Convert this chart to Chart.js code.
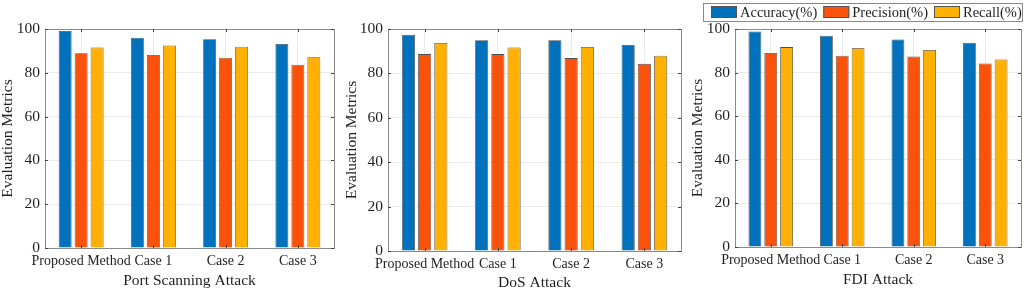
<!DOCTYPE html>
<html>
<head>
<meta charset="utf-8">
<script src="https://cdn.jsdelivr.net/npm/chart.js@4"></script>
<style>
  html, body { margin: 0; padding: 0; background: #fff; }
  #wrap { position: relative; width: 1024px; height: 291px; overflow: hidden; }
  canvas { position: absolute; top: 0; }
</style>
</head>
<body>
<div id="wrap">
  <canvas id="portChart" width="340" height="291" style="left:0px"></canvas>
  <canvas id="dosChart" width="344" height="291" style="left:340px"></canvas>
  <canvas id="fdiChart" width="340" height="291" style="left:684px"></canvas>
</div>
<script>
// categories and series
const categories = ['Proposed Method', 'Case 1', 'Case 2', 'Case 3'];
const seriesNames = ['Accuracy(%)', 'Precision(%)', 'Recall(%)'];
const seriesColors = ['#0072BD', '#FA520A', '#FFB000'];
const yTicks = [0, 20, 40, 60, 80, 100];

// Port Scanning Attack
const portAccuracy = [99.1, 96.0, 95.3, 93.2];
const portPrecision = [88.9, 88.1, 86.9, 83.7];
const portRecall = [91.6, 92.5, 91.9, 87.1];

// DoS Attack
const dosAccuracy = [97.4, 94.9, 94.9, 92.8];
const dosPrecision = [88.7, 88.7, 86.9, 84.3];
const dosRecall = [93.7, 91.7, 91.9, 88.0];

// FDI Attack
const fdiAccuracy = [98.9, 96.9, 95.2, 93.7];
const fdiPrecision = [89.0, 87.7, 87.4, 84.2];
const fdiRecall = [91.7, 91.3, 90.4, 86.0];

const serif = "'Liberation Serif', 'Times New Roman', serif";
const textColor = '#1f1f1f';

// box around the plot area with small inward ticks (matlab style)
const boxPlugin = {
    id: 'boxPlugin',
    afterDraw(chart) {
        const ctx = chart.ctx;
        const a = chart.chartArea;
        const x = chart.scales.x;
        const y = chart.scales.y;
        ctx.save();
        ctx.strokeStyle = '#8a8a8a';
        ctx.lineWidth = 1;
        ctx.strokeRect(Math.round(a.left) + 0.5, Math.round(a.top) + 0.5,
            Math.round(a.right - a.left), Math.round(a.bottom - a.top));
        ctx.strokeStyle = '#444';
        ctx.beginPath();
        yTicks.forEach(function (v) {
            const py = Math.round(y.getPixelForValue(v)) + 0.5;
            ctx.moveTo(a.left, py); ctx.lineTo(a.left + 3, py);
            ctx.moveTo(a.right, py); ctx.lineTo(a.right - 3, py);
        });
        categories.forEach(function (c, i) {
            const px = Math.round(x.getPixelForValue(i)) + 0.5;
            ctx.moveTo(px, a.bottom); ctx.lineTo(px, a.bottom - 3);
            ctx.moveTo(px, a.top); ctx.lineTo(px, a.top + 3);
        });
        ctx.stroke();
        ctx.restore();
    }
};

// boxed legend row above the third panel
const legendPlugin = {
    id: 'boxLegend',
    afterDraw(chart) {
        const ctx = chart.ctx;
        ctx.save();
        ctx.font = Chart.helpers.toFont({ family: serif, size: 14.5 }).string;
        ctx.textBaseline = 'middle';
        ctx.textAlign = 'left';
        ctx.fillStyle = '#fff';
        ctx.fillRect(19, 3, 319, 18);
        ctx.strokeStyle = '#8a8a8a';
        ctx.lineWidth = 1;
        ctx.strokeRect(19.5, 3.5, 319, 18);
        let px = 27;
        chart.data.datasets.forEach(function (ds) {
            ctx.fillStyle = ds.backgroundColor;
            ctx.fillRect(px, 6, 26, 12);
            ctx.strokeStyle = '#555';
            ctx.strokeRect(px + 0.5, 6.5, 25, 11);
            ctx.fillStyle = textColor;
            ctx.fillText(ds.label, px + 29, 13);
            px += 29 + ctx.measureText(ds.label).width + 6;
        });
        ctx.restore();
    }
};

function makePanel(id, acc, prec, rec, xTitle, opt) {
    const values = [acc, prec, rec];
    const datasets = seriesNames.map(function (name, i) {
        return {
            label: name,
            data: values[i],
            backgroundColor: seriesColors[i],
            borderColor: '#4d4d4d',
            borderWidth: 0.8,
            categoryPercentage: 0.664,
            barPercentage: 0.81
        };
    });

    const plugins = [boxPlugin];
    if (opt.legend) plugins.push(legendPlugin);

    new Chart(document.getElementById(id), {
        type: 'bar',
        data: { labels: categories, datasets: datasets },
        plugins: plugins,
        options: {
            responsive: false,
            devicePixelRatio: 1,
            animation: false,
            layout: { padding: { top: 29, right: opt.right, bottom: 0, left: 0 } },
            plugins: {
                legend: { display: false },
                tooltip: { enabled: false }
            },
            scales: {
                x: {
                    offset: true,
                    grid: { offset: false, color: '#ebebeb', drawTicks: false },
                    border: { display: false },
                    ticks: {
                        color: textColor, padding: 5, maxRotation: 0, autoSkip: false,
                        font: { family: serif, size: 14 }
                    },
                    title: {
                        display: true, text: xTitle, color: textColor,
                        font: { family: serif, size: 15.5, lineHeight: 1 },
                        padding: { top: 0, bottom: opt.xTitlePad }
                    },
                    afterFit: function (scale) { scale.height = opt.xHeight; }
                },
                y: {
                    min: 0, max: 100,
                    grid: { color: '#ebebeb', drawTicks: false },
                    border: { display: false },
                    afterBuildTicks: function (scale) {
                        scale.ticks = yTicks.map(function (v) { return { value: v }; });
                    },
                    ticks: {
                        color: textColor, padding: 5,
                        font: { family: serif, size: 15.5 }
                    },
                    title: {
                        display: true, text: 'Evaluation Metrics', color: textColor,
                        font: { family: serif, size: 15.5, lineHeight: 1 },
                        padding: { top: opt.yTitlePad, bottom: 0 }
                    },
                    afterFit: function (scale) { scale.width = opt.yWidth; }
                }
            }
        }
    });
}

makePanel('portChart', portAccuracy, portPrecision, portRecall, 'Port Scanning Attack',
    { yWidth: 45, right: 6, xHeight: 43, xTitlePad: 2.25, yTitlePad: 0.25 });
makePanel('dosChart', dosAccuracy, dosPrecision, dosRecall, 'DoS Attack',
    { yWidth: 48, right: 3, xHeight: 40, xTitlePad: 0.25, yTitlePad: 4.25 });
makePanel('fdiChart', fdiAccuracy, fdiPrecision, fdiRecall, 'FDI Attack',
    { yWidth: 51, right: 3, xHeight: 44, xTitlePad: 3.25, yTitlePad: 6.5, legend: true });
</script>
</body>
</html>
